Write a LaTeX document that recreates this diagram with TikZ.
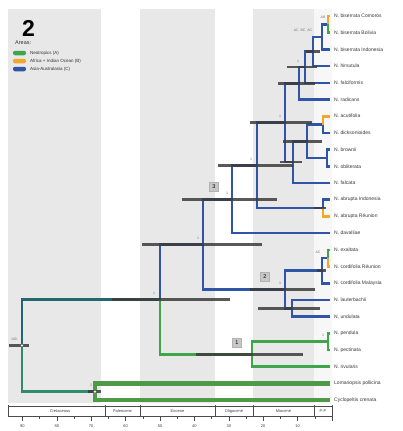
\documentclass[tikz,border=0pt]{standalone}
\usepackage{fontspec}
\setmainfont{Liberation Sans}
\definecolor{blueC}{HTML}{2F56A6}
\definecolor{greenA}{HTML}{3FA54B}
\definecolor{orangeB}{HTML}{F3A629}
\definecolor{tealR}{HTML}{23676E}
\definecolor{tealG}{HTML}{2E8B6E}
\definecolor{greenO}{HTML}{4F9A46}
\definecolor{band}{HTML}{E8E8E8}
\definecolor{hpdc}{HTML}{3C3C3C}
\begin{document}
\begin{tikzpicture}[x=1pt,y=-1pt,
  br/.style={line width=2.6pt},
  bC/.style={br,draw=blueC},
  bA/.style={br,draw=greenA},
  bB/.style={br,draw=orangeB},
  bR/.style={br,draw=tealR},
  bO/.style={line width=4.5pt,draw=greenO},
  hpd/.style={line width=2.6pt,draw=hpdc,opacity=0.85},
  tip/.style={anchor=west,font=\fontsize{5}{6}\selectfont,text=black!78,inner sep=0pt},
  pp/.style={font=\fontsize{3.5}{4}\selectfont,text=black!55,inner sep=0pt},
  boxlab/.style={draw=black!30,fill=black!22,font=\fontsize{5.5}{6}\selectfont,minimum size=9pt,inner sep=0pt},
  pill/.style={rounded corners=2pt,minimum width=13pt,minimum height=4.5pt,inner sep=0pt},
  legtext/.style={anchor=west,font=\fontsize{4.5}{5}\selectfont,text=black!80,inner sep=0pt},
  ax/.style={line width=0.4pt,draw=black!70},
  eplab/.style={font=\fontsize{4}{4}\selectfont,text=black!75,inner sep=0pt},
  ticklab/.style={font=\fontsize{4}{4}\selectfont,text=black!75,inner sep=0pt}
]
\useasboundingbox (0,0) rectangle (402,431);
\fill[white] (0,0) rectangle (402,431);
% background bands
\fill[band] (8,9) rectangle (101,403);
\fill[band] (140,9) rectangle (215,403);
\fill[band] (253,9) rectangle (314,403);
\fill[black!3] (314,9) rectangle (332,403);

% legend
\node[font=\bfseries\fontsize{23}{23}\selectfont,anchor=base west,inner sep=0pt] (panel) at (22,36) {2};
\node[legtext,font=\fontsize{5.5}{6}\selectfont] (areas) at (15,43) {Areas:};
\node[pill,fill=greenA] (pA) at (19.5,53) {};
\node[pill,fill=orangeB] (pB) at (19.5,61) {};
\node[pill,fill=blueC] (pC) at (19.5,69) {};
\node[legtext] (tA) at (30,53) {Neotropics (A)};
\node[legtext] (tB) at (30,61) {Africa + Indian Ocean (B)};
\node[legtext] (tC) at (30,69) {Asia-Australasia (C)};

% tips
\foreach \i/\y/\nm in {1/16.0/{N. biserrata Comoros},2/32.7/{N. biserrata Bolivia},3/49.4/{N. biserrata Indonesia},4/66.1/{N. hirsutula},5/82.8/{N. falciformis},6/99.5/{N. radicans},7/116.2/{N. acutifolia},8/132.9/{N. dicksonioides},9/149.6/{N. brownii},10/166.3/{N. obliterata},11/183.0/{N. falcata},12/199.7/{N. abrupta Indonesia},13/216.4/{N. abrupta Réunion},14/233.1/{N. davalliae},15/249.8/{N. exaltata},16/266.5/{N. cordifolia Réunion},17/283.2/{N. cordifolia Malaysia},18/299.9/{N. lauterbachii},19/316.6/{N. undulata},20/333.3/{N. pendula},21/350.0/{N. pectinata},22/366.7/{N. rivularis},23/383.4/{Lomariopsis pollicina},24/400.1/{Cyclopeltis crenata}}{
  \coordinate (t\i) at (330,\y);
  \node[tip] (l\i) at (334,\y) {\nm};
}

% internal nodes
\coordinate (n1) at (328,24.35);
\coordinate (n2) at (322,36.9);
\coordinate (n3) at (313,51.5);
\coordinate (n4) at (305,67.15);
\coordinate (n5) at (299,83.3);
\coordinate (n6) at (285,122.7);
\coordinate (n7) at (293,162.1);
\coordinate (n8) at (307,141.25);
\coordinate (n9) at (323,124.55);
\coordinate (n10) at (327,157.95);
\coordinate (n11) at (257,165.4);
\coordinate (n12) at (323,208.05);
\coordinate (n13) at (232,199.25);
\coordinate (n14) at (203,244.4);
\coordinate (n15) at (285,289.5);
\coordinate (n16) at (322,270.7);
\coordinate (n17) at (328,258.15);
\coordinate (n19) at (292,308.25);
\coordinate (n20) at (160,299.3);
\coordinate (n21) at (252,354.2);
\coordinate (n22) at (328,341.65);
\coordinate (nO) at (95,391.75);
\coordinate (root) at (22,345.5);

% branches
\draw[bR] (root) |- (n20);
\draw[br,draw=tealG] (root) |- (nO);
\draw[bO] (nO) |- (t23);
\draw[bO] (nO) |- (t24);
\draw[bC] (n20) |- (n14);
\draw[bA] (n20) |- (n21);
\draw[bA] (n21) |- (n22);
\draw[bA] (n21) |- (t22);
\draw[bA] (n22) |- (t20);
\draw[bA] (n22) |- (t21);
\draw[bC] (n14) |- (n13);
\draw[bC] (n14) |- (n15);
\draw[bC] (n15) |- (n16);
\draw[bC] (n15) |- (n19);
\draw[bC] (n19) |- (t18);
\draw[bC] (n19) |- (t19);
\draw[bC] (n16) |- (n17);
\draw[bC] (n16) |- (t17);
\draw[bA] (n17) |- (t15);
\draw[bB] (n17) |- (t16);
\draw[bC] (n13) |- (n11);
\draw[bC] (n13) |- (t14);
\draw[bC] (n11) |- (n6);
\draw[bC] (n11) |- (n12);
\draw[bC] (n12) |- (t12);
\draw[bB] (n12) |- (t13);
\draw[bC] (n6) |- (n5);
\draw[bC] (n6) |- (n7);
\draw[bC] (n7) |- (n8);
\draw[bC] (n7) |- (t11);
\draw[bC] (n8) |- (n9);
\draw[bC] (n8) |- (n10);
\draw[bB] (n9) |- (t7);
\draw[bC] (n9) |- (t8);
\draw[bC] (n10) |- (t9);
\draw[bC] (n10) |- (t10);
\draw[bC] (n5) |- (n4);
\draw[bC] (n5) |- (t6);
\draw[bC] (n4) |- (n3);
\draw[bC] (n4) |- (t5);
\draw[bC] (n3) |- (n2);
\draw[bC] (n3) |- (t4);
\draw[bC] (n2) |- (n1);
\draw[bC] (n2) |- (t3);
\draw[bB] (n1) |- (t1);
\draw[bA] (n1) |- (t2);

% HPD bars
\draw[hpd] (9,345.5) -- (29,345.5);
\draw[hpd] (88,391.75) -- (101,391.75);
\draw[hpd] (112,299.3) -- (230,299.3);
\draw[hpd] (196,354.2) -- (303,354.2);
\draw[hpd] (142,244.4) -- (262,244.4);
\draw[hpd] (182,199.25) -- (277,199.25);
\draw[hpd] (218,165.4) -- (293,165.4);
\draw[hpd] (250,122.7) -- (312,122.7);
\draw[hpd] (280,162.1) -- (302,162.1);
\draw[hpd] (283,141.25) -- (322,141.25);
\draw[hpd] (278,83.3) -- (315,83.3);
\draw[hpd] (287,67.15) -- (317,67.15);
\draw[hpd] (306,51.5) -- (320,51.5);
\draw[hpd] (250,289.5) -- (315,289.5);
\draw[hpd] (258,308.25) -- (320,308.25);
\draw[hpd] (314,208.05) -- (326,208.05);
\draw[hpd] (317,270.7) -- (326,270.7);

% node markers
\draw[fill=white,draw=black!60,line width=0.4pt] (root) circle (1.6pt);
\draw[fill=white,draw=black!60,line width=0.4pt] (nO) circle (1.6pt);

% support / area labels
\node[pp] (q0) at (14,339) {100};
\node[pp] (q1) at (91,385) {1};
\node[pp] (q2) at (154,293) {1};
\node[pp] (q3) at (198,238) {1};
\node[pp] (q4) at (227,193) {1};
\node[pp] (q5) at (251,159) {1};
\node[pp] (q6) at (280,116) {1};
\node[pp] (q7) at (298,61) {1};
\node[pp] (q8) at (303,30) {AC\; BC\; AC};
\node[pp] (q9) at (323,17) {AB};
\node[pp] (q10) at (280,283) {1};
\node[pp] (q11) at (323,335) {1};
\node[pp] (q12) at (318,252) {AC};

% boxed labels
\node[boxlab] (b1) at (237,343) {1};
\node[boxlab] (b2) at (265,277) {2};
\node[boxlab] (b3) at (214,187) {3};

% time axis
\draw[ax] (8,406) -- (332,406);
\draw[ax] (8,416) -- (332,416);
\foreach \x in {8,105,140,215,253,314,332} \draw[ax] (\x,405) -- (\x,417);
\node[eplab] (e1) at (60,411) {Cretaceous};
\node[eplab] (e2) at (122.5,411) {Paleocene};
\node[eplab] (e3) at (177.5,411) {Eocene};
\node[eplab] (e4) at (234,411) {Oligocene};
\node[eplab] (e5) at (283.5,411) {Miocene};
\node[eplab] (e6) at (323,411) {P-P};
\foreach \m in {0,10,...,90} \draw[ax] ({332-3.44*\m},416) -- ({332-3.44*\m},421);
\foreach \m in {5,15,...,85} \draw[ax] ({332-3.44*\m},416) -- ({332-3.44*\m},418.5);
\foreach \m in {10,20,...,90} \node[ticklab] at ({332-3.44*\m},426) {\m};
\end{tikzpicture}
\end{document}
